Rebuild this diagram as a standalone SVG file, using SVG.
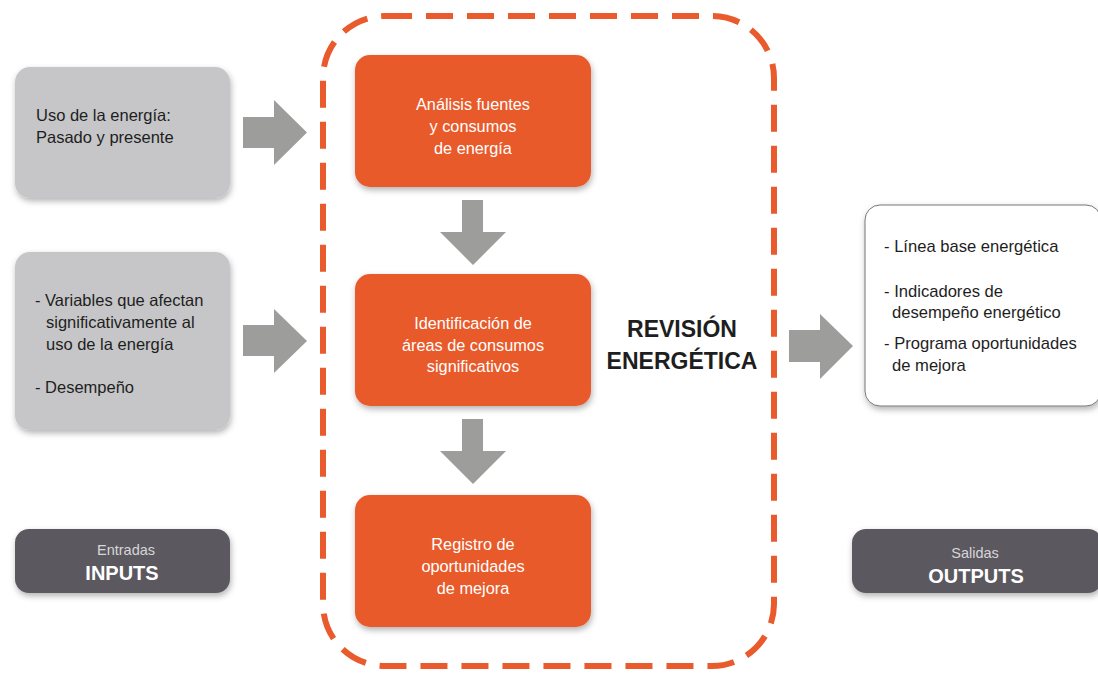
<svg xmlns="http://www.w3.org/2000/svg" width="1098" height="675" viewBox="0 0 1098 675">
<defs>
<filter id="sh" x="-10%" y="-10%" width="125%" height="130%">
<feDropShadow dx="1" dy="3" stdDeviation="3" flood-color="#000" flood-opacity="0.3"/>
</filter>
<style>
text{font-family:"Liberation Sans",Arial,sans-serif}
.gray{fill:#c6c6c8;filter:url(#sh)}
.org{fill:#e95a2c;filter:url(#sh)}
.dark{fill:#5c595e;filter:url(#sh)}
.arrow{fill:#9d9d9c}
.t{font-size:16.5px;fill:#1e1e1e}
.w{font-size:16.3px;fill:#fff;text-anchor:middle}
.o{font-size:16.6px;fill:#1e1e1e}
.sub{font-size:14.5px;fill:#d6d6d8;text-anchor:middle}
.big{font-size:20px;font-weight:bold;fill:#fff;text-anchor:middle}
</style>
</defs>
<rect x="0" y="0" width="1098" height="675" fill="#fff"/>
<g id="revision">
<rect x="323" y="16" width="451" height="650" rx="62" fill="none" stroke="#e95a2c" stroke-width="6" stroke-dasharray="27 14"/>
<text x="682" y="337" font-size="23" font-weight="bold" fill="#1e1e1e" text-anchor="middle">REVISIÓN</text>
<text x="682" y="369" font-size="23" font-weight="bold" fill="#1e1e1e" text-anchor="middle">ENERGÉTICA</text>
</g>
<g id="connectors">
<path class="arrow" d="M243 117 H274 V100 L307 132.5 L274 165 V148 H243 Z"/>
<path class="arrow" d="M243 325 H274 V309 L307 341 L274 373 V356 H243 Z"/>
<path class="arrow" d="M462 200 H483 V232 H506 L473 265 L440 232 H462 Z"/>
<path class="arrow" d="M462 419 H483 V451 H506 L473 484 L440 451 H462 Z"/>
<path class="arrow" d="M789 330 H820 V314 L853 346 L820 379 V362 H789 Z"/>
</g>
<g id="input1">
<rect class="gray" x="15" y="67" width="215" height="131" rx="15"/>
<text class="t" x="36" y="121">Uso de la energía:</text>
<text class="t" x="36" y="143">Pasado y presente</text>
</g>
<g id="input2">
<rect class="gray" x="15" y="252" width="215" height="178" rx="15"/>
<text class="t" x="35" y="306">- Variables que afectan</text>
<text class="t" x="46" y="328">significativamente al</text>
<text class="t" x="46" y="350">uso de la energía</text>
<text class="t" x="35" y="393">- Desempeño</text>
</g>
<g id="analisis">
<rect class="org" x="355" y="55" width="236" height="132" rx="15"/>
<text class="w" x="473" y="110">Análisis fuentes</text>
<text class="w" x="473" y="132">y consumos</text>
<text class="w" x="473" y="154">de energía</text>
</g>
<g id="identificacion">
<rect class="org" x="355" y="274" width="236" height="132" rx="15"/>
<text class="w" x="473" y="329">Identificación de</text>
<text class="w" x="473" y="351">áreas de consumos</text>
<text class="w" x="473" y="372">significativos</text>
</g>
<g id="registro">
<rect class="org" x="355" y="495" width="236" height="132" rx="15"/>
<text class="w" x="473" y="550">Registro de</text>
<text class="w" x="473" y="572">oportunidades</text>
<text class="w" x="473" y="594">de mejora</text>
</g>
<g id="outputs-box">
<rect x="865" y="205" width="236" height="201" rx="15" fill="#fff" stroke="#777" stroke-width="1" filter="url(#sh)"/>
<text class="o" x="884" y="252">- Línea base energética</text>
<text class="o" x="884" y="297">- Indicadores de</text>
<text class="o" x="892" y="318">desempeño energético</text>
<text class="o" x="884" y="349">- Programa oportunidades</text>
<text class="o" x="892" y="371">de mejora</text>
</g>
<g id="inputs-label">
<rect class="dark" x="15" y="529" width="215" height="64" rx="14"/>
<text class="sub" x="126" y="555">Entradas</text>
<text class="big" x="122" y="580">INPUTS</text>
</g>
<g id="outputs-label">
<rect class="dark" x="852" y="529" width="250" height="64" rx="14"/>
<text class="sub" x="975" y="558">Salidas</text>
<text class="big" x="976" y="583">OUTPUTS</text>
</g>
</svg>
